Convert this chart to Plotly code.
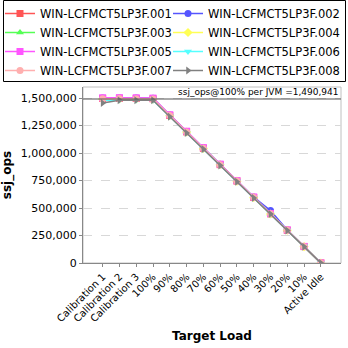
import plotly.graph_objects as go

categories = ["Calibration 1", "Calibration 2", "Calibration 3", "100%", "90%", "80%",
              "70%", "60%", "50%", "40%", "30%", "20%", "10%", "Active Idle"]

s001 = [1496000, 1497000, 1496000, 1493000, 1341000, 1192000, 1043000, 894000, 745000, 596000, 447000, 298000, 149000, 0]
s002 = [1500000, 1500000, 1499000, 1497000, 1346000, 1196000, 1047000, 898000, 748000, 599000, 478000, 300000, 150000, 0]
s003 = [1497000, 1498000, 1497000, 1494000, 1343000, 1194000, 1045000, 896000, 746000, 597000, 448000, 299000, 150000, 0]
s004 = [1490000, 1492000, 1491000, 1489000, 1340000, 1191000, 1042000, 893000, 744000, 595000, 446000, 298000, 149000, 0]
s005 = [1502000, 1503000, 1502000, 1499000, 1348000, 1198000, 1049000, 899000, 749000, 600000, 450000, 301000, 151000, 0]
s006 = [1480000, 1482000, 1481000, 1480000, 1333000, 1185000, 1037000, 889000, 741000, 593000, 444000, 296000, 152000, 0]
s007 = [1494000, 1495000, 1494000, 1491000, 1341000, 1192000, 1043000, 894000, 745000, 596000, 447000, 298000, 149000, 0]
s008 = [1455000, 1480000, 1480000, 1479000, 1330000, 1182000, 1035000, 887000, 739000, 591000, 445000, 296000, 148000, 0]

names = ["WIN-LCFMCT5LP3F.001", "WIN-LCFMCT5LP3F.002", "WIN-LCFMCT5LP3F.003", "WIN-LCFMCT5LP3F.004",
         "WIN-LCFMCT5LP3F.005", "WIN-LCFMCT5LP3F.006", "WIN-LCFMCT5LP3F.007", "WIN-LCFMCT5LP3F.008"]
series = [s001, s002, s003, s004, s005, s006, s007, s008]
colors = ["#ff5555", "#5555ff", "#55ff55", "#ffff55", "#ff55ff", "#55ffff", "#ffafaf", "#808080"]
symbols = ["square", "circle", "triangle-up", "diamond", "square", "triangle-down", "circle", "triangle-right"]

ref_value = 1490941

W, H = 348, 348
ML, MR, MT, MB = 83, 7, 87, 85
PW, PH = W - ML - MR, H - MT - MB

def px_x(x):
    return (x - ML) / PW

def px_y(y):
    return (H - MB - y) / PH

fig = go.Figure()
for i, (n, s, c, m) in enumerate(zip(names, series, colors, symbols)):
    fig.add_trace(go.Scatter(
        x=categories, y=s, name=n, mode="lines+markers",
        line=dict(color=c, width=1.5),
        marker=dict(color=c, symbol=m, size=7),
        legend="legend" if i % 2 == 0 else "legend2",
    ))

fig.add_shape(type="line", xref="paper", x0=0, x1=1, yref="y", y0=ref_value, y1=ref_value,
              line=dict(color="#555555", width=1))
fig.add_shape(type="rect", xref="paper", yref="paper", x0=0, x1=1, y0=0, y1=1,
              line=dict(color="#c0c0c0", width=1), layer="below")
# legend frame
fig.add_shape(type="rect", xref="paper", yref="paper",
              x0=px_x(3.5), x1=px_x(345.5), y0=px_y(81.5), y1=px_y(0.5),
              line=dict(color="#000000", width=1))
fig.add_annotation(xref="paper", yref="paper", x=0.995, y=1.0, xanchor="right", yanchor="top",
                   text="ssj_ops@100% per JVM =1,490,941", showarrow=False, yshift=2,
                   font=dict(family="DejaVu Sans", size=9, color="#000000"))

leg_common = dict(
    orientation="v", xref="paper", yref="paper", yanchor="top", xanchor="left",
    itemwidth=30, tracegroupgap=0, bgcolor="rgba(0,0,0,0)", borderwidth=0,
    font=dict(family="DejaVu Sans", size=11.5), traceorder="normal",
)

fig.update_layout(
    width=W, height=H,
    margin=dict(l=ML, r=MR, t=MT, b=MB, autoexpand=False),
    paper_bgcolor="white", plot_bgcolor="white",
    font=dict(family="DejaVu Sans", color="#000000"),
    showlegend=True,
    legend=dict(x=px_x(0), y=px_y(-1), **leg_common),
    legend2=dict(x=px_x(168), y=px_y(-1), **leg_common),
    xaxis=dict(
        type="category", range=[-1.17, 14.2],
        tickangle=-45, tickfont=dict(size=10),
        showgrid=False, showline=True, linecolor="#888888",
        ticks="outside", ticklen=3, tickcolor="#888888",
        title=dict(text="<b>Target Load</b>", font=dict(size=12), standoff=8),
    ),
    yaxis=dict(
        range=[0, 1600000], tickvals=[0, 250000, 500000, 750000, 1000000, 1250000, 1500000],
        tickformat=",", tickfont=dict(size=11),
        showgrid=True, gridcolor="#d8d8d8", griddash="dash",
        showline=True, linecolor="#888888",
        ticks="outside", ticklen=3, tickcolor="#888888",
        title=dict(text="<b>ssj_ops</b>", font=dict(size=12), standoff=6),
        zeroline=False,
    ),
)

fig.write_html("out.html")
